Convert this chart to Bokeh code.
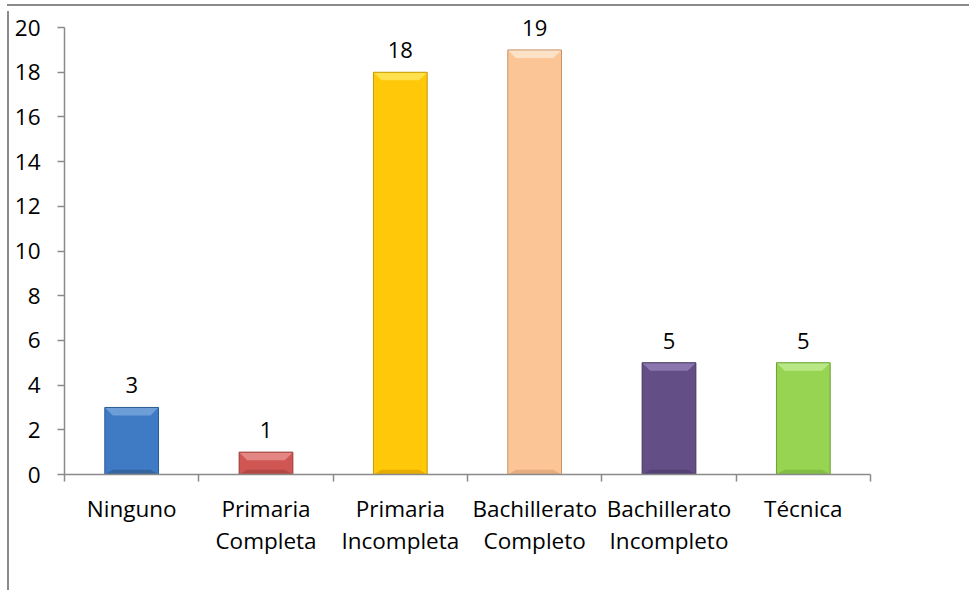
from bokeh.plotting import figure
from bokeh.models import Range1d, FixedTicker, ColumnDataSource, Div
from bokeh.layouts import column
from bokeh.core.properties import value
from bokeh.embed import file_html
from bokeh.resources import INLINE

categories = ["Ninguno", "Primaria\nCompleta", "Primaria\nIncompleta",
              "Bachillerato\nCompleto", "Bachillerato\nIncompleto", "Técnica"]
counts = [3, 1, 18, 19, 5, 5]
y_ticks = [0, 2, 4, 6, 8, 10, 12, 14, 16, 18, 20]

fill_colors = ["#3f7ac4", "#cf5653", "#ffc90a", "#fcc596", "#634e86", "#96d451"]
edge_colors = ["#2b5a94", "#9a3a38", "#c79700", "#c69466", "#45355f", "#6b9f33"]
top_colors = ["#6e9ed8", "#e48784", "#ffe04d", "#fee2c8", "#8b77ad", "#b8e886"]
bottom_colors = ["#33669f", "#b44845", "#e6ad00", "#e6ad80", "#554274", "#82bd44"]

FONT = "Open Sans"
GRAY = "#8a8a8a"
BAR_W = 0.4
BEVEL_X = 0.06
BEVEL_Y = 0.36

x_pos = [i + 0.5 for i in range(len(categories))]
src = ColumnDataSource(dict(x=x_pos, top=counts, fill=fill_colors, edge=edge_colors,
                            label=[str(c) for c in counts]))

# bevel facets derived from the bar values
top_xs, top_ys, bot_xs, bot_ys = [], [], [], []
for x, v in zip(x_pos, counts):
    l, r = x - BAR_W / 2, x + BAR_W / 2
    top_xs.append([l, r, r - BEVEL_X, l + BEVEL_X])
    top_ys.append([v, v, v - BEVEL_Y, v - BEVEL_Y])
    bot_xs.append([l, r, r - BEVEL_X, l + BEVEL_X])
    bot_ys.append([0, 0, BEVEL_Y * 0.6, BEVEL_Y * 0.6])

p = figure(width=958, height=579, output_backend="svg", toolbar_location=None,
           x_range=Range1d(0, len(categories)), y_range=Range1d(0, 20.72))
p.min_border = 0
p.min_border_left = 55
p.min_border_top = 0
p.min_border_bottom = 116
p.min_border_right = 97
p.outline_line_color = None
p.xgrid.visible = False
p.ygrid.visible = False
p.background_fill_color = "white"
p.border_fill_color = "white"
p.styles = {"border-left": f"2px solid {GRAY}", "margin-left": "7px"}

p.vbar(x="x", top="top", bottom=0, width=BAR_W, source=src,
       fill_color="fill", line_color=None)
p.patches(xs=top_xs, ys=top_ys, fill_color=top_colors, line_color=None)
p.patches(xs=bot_xs, ys=bot_ys, fill_color=bottom_colors, line_color=None)
p.vbar(x="x", top="top", bottom=0, width=BAR_W, source=src,
       fill_color=None, line_color="edge", line_width=1)

p.text(x="x", y="top", text="label", source=src, text_align="center",
       text_baseline="middle", y_offset=-22, text_font=value(FONT),
       text_font_size="22px", text_color="black")

# x axis
xa = p.xaxis[0]
xa.ticker = FixedTicker(ticks=x_pos, minor_ticks=list(range(len(categories) + 1)))
xa.major_label_overrides = {x: c for x, c in zip(x_pos, categories)}
xa.major_tick_line_color = None
xa.major_tick_out = 0
xa.major_tick_in = 0
xa.minor_tick_out = 7
xa.minor_tick_in = 0
xa.minor_tick_line_color = GRAY
xa.minor_tick_line_width = 1.5
xa.axis_line_color = GRAY
xa.axis_line_width = 1.5
xa.major_label_text_font = FONT
xa.major_label_text_font_size = "22.5px"
xa.major_label_text_color = "black"
xa.major_label_text_line_height = 1.05
xa.major_label_standoff = 11

ya = p.yaxis[0]
ya.ticker = FixedTicker(ticks=y_ticks, minor_ticks=[])
ya.bounds = (0, 20)
ya.major_tick_out = 7
ya.major_tick_in = 0
ya.major_tick_line_color = GRAY
ya.major_tick_line_width = 1.5
ya.axis_line_color = GRAY
ya.axis_line_width = 1.5
ya.minor_tick_line_color = None
ya.major_label_text_font = FONT
ya.major_label_text_font_size = "22.5px"
ya.major_label_text_color = "black"
ya.major_label_standoff = 17

top_rule = Div(text="", width=962, height=2,
               styles={"background-color": GRAY, "margin-left": "7px", "margin-top": "4px"})
layout = column(top_rule, p, spacing=0)

open("out.html", "w").write(file_html(layout, INLINE))
